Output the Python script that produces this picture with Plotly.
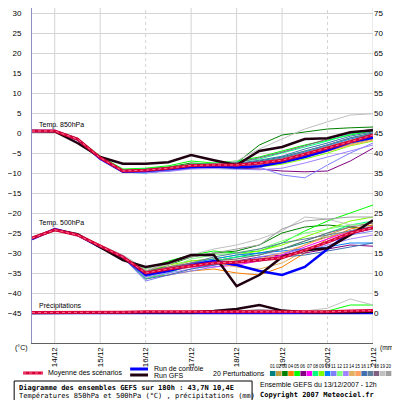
import datetime as dt

import plotly.graph_objects as go

# --- data ---------------------------------------------------------------
start = dt.datetime(2007, 12, 13, 12)
hours = list(range(0, 181, 12))
times = [start + dt.timedelta(hours=h) for h in hours]

day_labels = ["14/12", "15/12", "16/12", "17/12", "18/12", "19/12", "20/12", "21/12"]
day_dates = [dt.datetime(2007, 12, d) for d in range(14, 22)]
dashed_days = ["16/12", "20/12"]

t850_mean = [0.5, 0.5, -1.5, -6.2, -9.5, -9.3, -8.8, -8.1, -8.0, -8.0, -7.5, -6.8, -5.3, -3.8, -2.2, -0.5]
t850_gfs = [0.5, 0.4, -2.5, -6.0, -7.7, -7.7, -7.3, -5.5, -6.8, -8.0, -4.5, -3.5, -1.5, -1.3, 0.2, 0.7]
t850_ctrl = [0.5, 0.5, -1.6, -6.4, -9.7, -9.5, -9.0, -8.5, -8.4, -8.6, -8.3, -7.3, -6.0, -4.3, -2.3, -1.2]

t500_mean = [-26.3, -24.2, -25.5, -28.3, -31.0, -35.0, -34.0, -33.2, -32.5, -32.3, -31.8, -31.2, -29.3, -27.3, -25.0, -23.7]
t500_gfs = [-26.3, -24.2, -25.3, -28.5, -31.8, -33.5, -32.5, -30.5, -30.5, -38.3, -35.5, -31.0, -29.3, -28.8, -25.5, -21.8]
t500_ctrl = [-26.5, -24.0, -25.5, -28.5, -31.0, -35.5, -34.5, -33.0, -32.0, -33.0, -34.5, -35.5, -33.5, -29.0, -25.0, -23.7]

rr_mean = [0.1, 0.1, 0.1, 0.2, 0.2, 0.3, 0.3, 0.3, 0.3, 0.4, 0.3, 0.3, 0.3, 0.3, 0.5, 0.6]
rr_gfs = [0.0, 0.0, 0.0, 0.0, 0.1, 0.2, 0.2, 0.2, 0.5, 1.0, 2.0, 0.6, 0.2, 0.1, 0.2, 0.3]
rr_ctrl = [0.0, 0.0, 0.0, 0.0, 0.0, 0.0, 0.0, 0.0, 0.0, 0.0, 0.0, 0.0, 0.0, 0.0, 0.0, 0.0]

pert_colors = [
    "#008080", "#c0a040", "#008000", "#ff8000", "#00ff00",
    "#800080", "#ff00ff", "#00ff80", "#80ff00", "#0080ff",
    "#8080ff", "#80ff80", "#a080ff", "#e0b060", "#ffa060",
    "#4070b0", "#6080a0", "#806080", "#c0c0c0", "#a0a0a0",
]

p850 = [
    [0.5, 0.5, -1.6, -6.4, -9.6, -9.3, -9.0, -8.3, -8.0, -7.8, -7.0, -6.0, -4.5, -3.0, -1.2, 0.0],
    [0.5, 0.4, -1.4, -6.0, -9.3, -9.5, -9.2, -8.5, -8.5, -8.6, -8.2, -7.5, -6.0, -4.5, -2.8, -1.5],
    [0.5, 0.5, -1.5, -6.3, -9.4, -9.0, -8.5, -7.5, -7.8, -7.5, -3.0, -0.5, 0.3, 1.0, 1.3, 1.5],
    [0.4, 0.5, -1.7, -6.5, -9.8, -9.6, -9.0, -8.4, -8.3, -8.5, -8.0, -7.0, -5.5, -4.0, -2.2, -1.0],
    [0.5, 0.6, -1.3, -5.8, -9.0, -8.8, -8.2, -7.0, -7.5, -7.0, -6.0, -4.5, -3.0, -1.8, -0.5, 0.5],
    [0.5, 0.5, -1.5, -6.2, -9.6, -9.8, -9.5, -8.8, -8.6, -8.8, -9.0, -9.5, -9.7, -9.5, -7.0, -3.8],
    [0.5, 0.5, -1.5, -6.1, -9.5, -9.4, -9.0, -8.5, -8.4, -8.2, -7.6, -6.8, -5.2, -3.8, -2.0, -0.8],
    [0.5, 0.5, -1.4, -6.0, -9.2, -9.0, -8.6, -7.8, -7.6, -7.2, -6.5, -5.0, -3.5, -2.0, -0.3, 0.8],
    [0.5, 0.5, -1.6, -6.3, -9.6, -9.6, -9.2, -8.6, -8.7, -8.8, -8.5, -7.8, -6.5, -5.0, -3.2, -2.0],
    [0.5, 0.5, -1.5, -6.4, -9.8, -10.0, -9.4, -8.7, -8.5, -8.4, -7.5, -6.3, -4.8, -3.2, -1.5, -0.3],
    [0.5, 0.5, -1.5, -6.3, -9.7, -9.8, -9.3, -8.8, -8.6, -8.5, -8.5, -10.5, -11.2, -8.0, -5.0, -2.5],
    [0.5, 0.5, -1.4, -6.1, -9.3, -9.2, -8.8, -8.2, -8.2, -8.0, -7.5, -7.0, -5.8, -4.2, -2.5, -1.2],
    [0.5, 0.5, -1.6, -6.4, -9.8, -9.9, -9.6, -9.0, -8.9, -9.0, -9.2, -8.8, -7.5, -6.0, -4.5, -3.0],
    [0.5, 0.5, -1.5, -6.2, -9.5, -9.3, -8.9, -8.3, -8.2, -8.0, -7.4, -6.5, -5.0, -3.5, -1.8, -0.5],
    [0.5, 0.4, -1.6, -6.3, -9.7, -9.6, -9.1, -8.6, -8.5, -8.5, -8.0, -7.2, -6.0, -4.6, -3.0, -1.8],
    [0.5, 0.5, -1.5, -6.2, -9.5, -9.5, -9.0, -8.4, -8.0, -7.6, -6.8, -5.8, -4.0, -2.5, -0.8, 0.3],
    [0.5, 0.5, -1.5, -6.2, -9.6, -9.4, -9.0, -8.5, -8.3, -8.1, -7.2, -6.2, -4.6, -3.0, -1.3, -0.2],
    [0.5, 0.5, -1.4, -6.0, -9.3, -9.1, -8.7, -8.0, -7.8, -7.4, -6.2, -4.8, -3.2, -1.5, 0.0, 1.0],
    [0.5, 0.5, -1.5, -6.1, -9.4, -9.2, -8.8, -8.0, -7.8, -7.0, -4.0, -1.5, 1.0, 2.8, 4.5, 4.8],
    [0.5, 0.5, -1.5, -6.3, -9.5, -9.4, -9.0, -8.4, -8.3, -8.2, -7.6, -6.5, -5.0, -3.3, -1.8, -0.7],
]

p500 = [
    [-26.5, -24.3, -25.4, -28.5, -31.5, -35.5, -34.5, -33.0, -32.0, -31.0, -30.0, -29.0, -27.5, -26.0, -24.5, -23.0],
    [-26.3, -24.2, -25.6, -28.2, -30.8, -34.5, -33.5, -32.0, -31.5, -31.8, -32.0, -30.5, -28.0, -25.5, -23.5, -22.5],
    [-26.3, -24.1, -25.5, -28.4, -31.2, -35.0, -33.0, -31.0, -30.0, -29.5, -28.0, -25.0, -23.5, -23.0, -23.5, -24.0],
    [-26.4, -24.3, -25.3, -28.0, -31.0, -36.0, -35.5, -34.5, -34.0, -35.0, -35.5, -33.5, -30.0, -26.5, -24.0, -23.0],
    [-26.2, -24.1, -25.4, -28.3, -31.0, -34.0, -32.0, -30.5, -29.5, -30.0, -29.5, -27.5, -24.5, -22.0, -20.0, -18.0],
    [-26.3, -24.2, -25.5, -28.5, -31.3, -35.5, -34.5, -33.5, -33.0, -32.0, -31.0, -30.5, -30.0, -29.0, -28.0, -28.3],
    [-26.3, -24.2, -25.5, -28.3, -31.0, -35.0, -34.0, -33.5, -33.5, -33.0, -32.0, -30.5, -28.5, -26.5, -24.5, -23.5],
    [-26.3, -24.2, -25.5, -28.2, -30.8, -36.5, -35.0, -33.0, -32.0, -31.0, -30.5, -29.0, -27.0, -25.0, -23.0, -22.0],
    [-26.3, -24.2, -25.5, -28.3, -31.0, -34.5, -33.0, -32.0, -31.5, -30.5, -29.5, -28.0, -26.0, -24.0, -22.0, -21.0],
    [-26.6, -24.0, -25.4, -28.6, -31.4, -36.0, -34.0, -32.5, -31.5, -30.5, -30.0, -29.5, -29.0, -28.5, -27.5, -27.5],
    [-26.3, -24.2, -25.5, -28.5, -31.2, -37.0, -35.5, -34.5, -33.5, -32.5, -31.0, -30.0, -29.0, -27.5, -25.5, -24.5],
    [-26.3, -24.2, -25.5, -28.3, -31.0, -36.5, -34.0, -31.5, -30.5, -30.0, -29.0, -27.0, -25.0, -24.0, -23.0, -22.5],
    [-26.3, -24.2, -25.5, -28.4, -31.2, -36.0, -35.0, -34.0, -33.0, -32.5, -32.0, -31.0, -29.5, -28.0, -26.5, -25.5],
    [-26.3, -24.2, -25.5, -28.3, -31.0, -35.5, -34.5, -33.0, -32.5, -33.5, -34.0, -32.5, -29.5, -27.0, -25.0, -24.0],
    [-26.3, -24.2, -25.5, -28.2, -30.9, -35.0, -34.5, -33.5, -32.5, -32.0, -31.5, -30.0, -28.0, -26.0, -24.5, -23.5],
    [-26.4, -24.2, -25.4, -28.4, -31.1, -36.5, -35.5, -34.0, -33.0, -32.0, -31.5, -31.0, -30.5, -29.5, -28.5, -27.5],
    [-26.3, -24.2, -25.5, -28.3, -31.0, -35.5, -34.0, -32.5, -31.0, -30.0, -29.0, -27.5, -26.5, -25.5, -24.5, -23.5],
    [-26.3, -24.2, -25.5, -28.2, -30.8, -34.5, -33.5, -32.5, -32.0, -31.5, -30.5, -29.0, -27.0, -25.0, -23.5, -22.5],
    [-26.3, -24.2, -25.5, -28.0, -30.5, -34.0, -33.0, -30.5, -29.0, -28.0, -26.5, -24.5, -21.0, -21.5, -23.0, -23.5],
    [-26.3, -24.2, -25.5, -28.2, -30.8, -34.5, -32.5, -31.0, -30.0, -29.0, -28.0, -24.0, -22.0, -21.5, -21.0, -21.0],
]

zero16 = [0.0] * 16
prr = [list(zero16) for _ in range(20)]
prr[4] = [0, 0, 0, 0, 0, 0, 0, 0, 0, 0.2, 0.2, 0.3, 0.3, 0.5, 2.0, 2.0]
prr[18] = [0, 0, 0, 0, 0, 0, 0, 0, 0, 0, 0.2, 0.3, 0.5, 1.2, 3.5, 2.0]
prr[17] = [0, 0, 0, 0, 0.2, 0.4, 0.3, 0.3, 0.4, 0.5, 0.8, 0.6, 0.3, 0.2, 0.3, 0.5]
prr[13] = [0, 0, 0, 0, 0, 0.2, 0.3, 0.2, 0.3, 0.6, 0.5, 0.4, 0.2, 0.3, 0.6, 0.8]

# --- layout helpers ------------------------------------------------------
# the page body adds an 8px offset, so the figure is 392x392 and every
# position below is given in window pixels (x, y from the top-left corner)
OFF = 8
W = H = 400 - OFF
L, R, T, B = 29, 373, OFF, 343


def px(x):
    return (x - L) / (R - L)


def py(y):
    return (B - y) / (B - T)


FONT = "Liberation Sans"
MONO = "DejaVu Sans Mono"

fig = go.Figure()


def add_series(y, color, width, axis="y", dash="solid"):
    fig.add_trace(go.Scatter(x=times, y=y, mode="lines", yaxis=axis,
                             line=dict(color=color, width=width, dash=dash),
                             showlegend=False, hoverinfo="skip"))


for i, c in enumerate(pert_colors):
    add_series(p850[i], c, 1)
    add_series(p500[i], c, 1)
    add_series(prr[i], c, 1, "y2")

for y, axis in [(t850_ctrl, "y"), (t500_ctrl, "y"), (rr_ctrl, "y2")]:
    add_series(y, "#0000ff", 2.5, axis)
for y, axis in [(t850_gfs, "y"), (t500_gfs, "y"), (rr_gfs, "y2")]:
    add_series(y, "#200010", 2.5, axis)
for y, axis in [(t850_mean, "y"), (t500_mean, "y"), (rr_mean, "y2")]:
    add_series(y, "#d8003a", 3, axis)
    add_series(y, "#ff7090", 1, axis, "dot")

shapes = []
for d, lab in zip(day_dates, day_labels):
    shapes.append(dict(type="line", xref="x", yref="paper", x0=d, x1=d, y0=0, y1=1,
                       line=dict(color="#d4d4d4", width=1,
                                 dash="dot" if lab in dashed_days else "solid"),
                       layer="below"))

# legend samples
shapes.append(dict(type="line", xref="paper", yref="paper", x0=px(20), x1=px(40),
                   y0=py(373), y1=py(373), line=dict(color="#d8003a", width=3)))
shapes.append(dict(type="line", xref="paper", yref="paper", x0=px(20), x1=px(40),
                   y0=py(373), y1=py(373), line=dict(color="#ff7090", width=1, dash="dot")))
shapes.append(dict(type="line", xref="paper", yref="paper", x0=px(128), x1=px(146),
                   y0=py(369), y1=py(369), line=dict(color="#0000ff", width=3)))
shapes.append(dict(type="line", xref="paper", yref="paper", x0=px(128), x1=px(146),
                   y0=py(375), y1=py(375), line=dict(color="#200010", width=3)))

annotations = []


def note(x, y, text, size=7, family=FONT, anchor="left"):
    annotations.append(dict(xref="paper", yref="paper", x=px(x), y=py(y), text=text,
                            showarrow=False, xanchor=anchor, yanchor="middle",
                            font=dict(family=family, size=size, color="#000000")))


note(34, 125, "Temp. 850hPa")
note(34, 223, "Temp. 500hPa")
note(34, 306, "Précipitations")
note(10, 348, "(°C)", 7)
note(378, 348, "(mm)", 6.5)
note(43, 373, "Moyenne des scénarios")
note(150, 368, "Run de contrôle")
note(150, 375, "Run GFS")
note(210, 373, "20 Perturbations")

sw0, sw = 269, 6.15
for i, c in enumerate(pert_colors):
    x0 = sw0 + i * sw
    shapes.append(dict(type="rect", xref="paper", yref="paper", x0=px(x0), x1=px(x0 + sw - 0.5),
                       y0=py(376), y1=py(371), line=dict(width=0), fillcolor=c))
    note(x0 + sw / 2, 366, f"{i + 1:02d}", 4.5, FONT, "center")

# bottom caption box
shapes.append(dict(type="rect", xref="paper", yref="paper", x0=px(11), x1=px(251),
                   y0=py(402), y1=py(381), line=dict(color="#000000", width=1),
                   fillcolor="rgba(0,0,0,0)"))
note(14, 388, "<b>Diagramme des ensembles GEFS sur 180h : 43,7N 10,4E</b>", 7, MONO)
note(14, 396, "Températures 850hPa et 500hPa (°C) , précipitations (mm)", 7, MONO)
note(257, 384, "Ensemble GEFS du 13/12/2007 - 12h", 7)
note(257, 395, "<b>Copyright 2007 Meteociel.fr</b>", 7, MONO)

y_top = (133 - T) / 4  # value at the top edge of the plot

fig.update_layout(
    width=W, height=H,
    margin=dict(l=L - OFF, r=W - (R - OFF), t=0, b=H - (B - OFF)),
    paper_bgcolor="white", plot_bgcolor="white",
    showlegend=False,
    font=dict(family=FONT, size=8, color="#000000"),
    xaxis=dict(range=[times[0], times[-1]], tickvals=day_dates, ticktext=day_labels,
               tickangle=-90, showgrid=False, zeroline=False, ticks="",
               showline=True, linecolor="#606060", linewidth=1,
               tickfont=dict(size=8)),
    yaxis=dict(range=[-52.5, y_top], tickvals=list(range(-45, 31, 5)),
               showgrid=True, gridcolor="#d4d4d4", gridwidth=1, zeroline=False,
               showline=True, linecolor="#9090c0", linewidth=1, ticks="",
               ticklabelstandoff=8, tickfont=dict(size=8)),
    yaxis2=dict(range=[-52.5 + 45, y_top + 45], tickvals=list(range(0, 76, 5)),
                overlaying="y", side="right", showgrid=False, zeroline=False,
                ticks="", tickfont=dict(size=8)),
    shapes=shapes,
    annotations=annotations,
)

fig.write_html("out.html")
